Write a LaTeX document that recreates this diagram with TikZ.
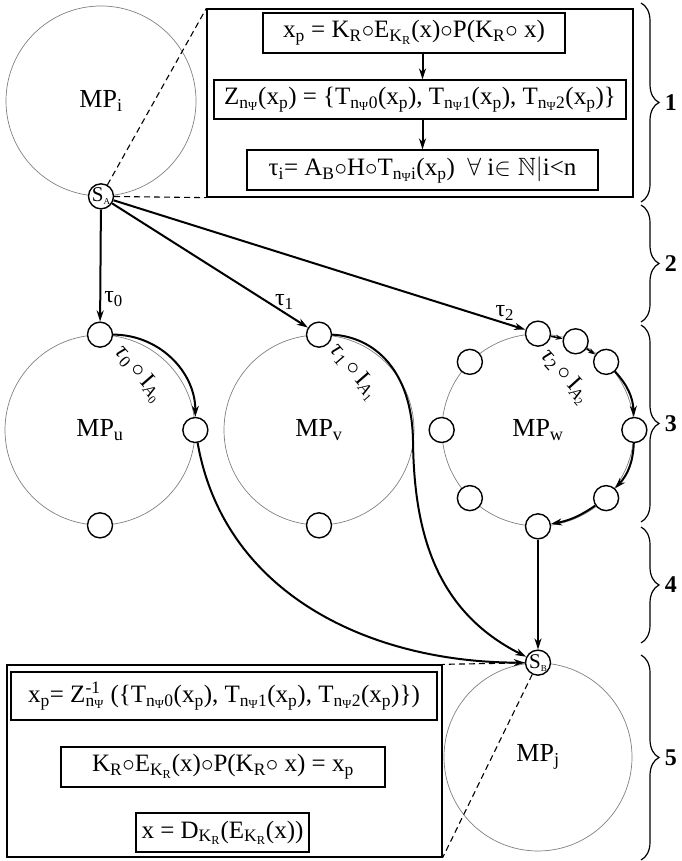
\documentclass[tikz,border=0pt]{standalone}
\usepackage{fontspec}
\setmainfont{Liberation Serif}
\usepackage{amssymb}
\usepackage{tikz}
\usetikzlibrary{arrows.meta,positioning,decorations.pathreplacing}

\newcommand{\sbs}[1]{\textsubscript{#1}}
\newcommand{\cmp}{$\circ$}

\tikzset{
  mp/.style={circle, draw=gray, line width=0.7pt, minimum size=190pt, inner sep=0pt, font=\fontsize{26}{30}\selectfont},
  port/.style={circle, draw, line width=1.4pt, fill=white, minimum size=25pt, inner sep=0pt, font=\fontsize{21}{21}\selectfont},
  formula/.style={draw, line width=1.2pt, inner xsep=3pt, inner ysep=0pt, minimum height=40pt, font=\fontsize{25}{29}\selectfont},
  outerbox/.style={draw, line width=1.3pt, inner sep=0pt},
  flow/.style={-{Stealth[length=11pt,width=7pt]}, line width=2pt},
  hop/.style={-{Stealth[length=7pt,width=5pt]}, line width=1.6pt},
  guide/.style={line width=1.1pt, dash pattern=on 6pt off 4pt},
  tag/.style={font=\fontsize{24}{28}\selectfont, inner sep=1pt},
  phase/.style={decorate, decoration={brace, amplitude=18pt}, line width=1.2pt},
  num/.style={font=\fontsize{24}{28}\selectfont\bfseries}
}

\begin{document}
\begin{tikzpicture}[x=1pt,y=1pt]
  \useasboundingbox (0,0) rectangle (681,861);

  \node[mp] (MPi) at (101,760) {MP\sbs{i}};
  \node[port] (SA) at (MPi.south) {S\raisebox{-3pt}{\fontsize{9}{9}\selectfont A}};

  \node[outerbox, minimum width=426pt, minimum height=188pt] (keybox) at (420,758) {};
  \node[formula, minimum width=302pt] (xp) at (414,828) {x\sbs{p} = K\sbs{R}\cmp E\sbs{K\sbs{R}}(x)\cmp P(K\sbs{R}\cmp\ x)};
  \node[formula, minimum width=412pt, minimum height=39pt] (split) at (420,761.5) {Z\sbs{n\sbs{Ψ}}(x\sbs{p}) = \{T\sbs{n\sbs{Ψ}0}(x\sbs{p}), T\sbs{n\sbs{Ψ}1}(x\sbs{p}), T\sbs{n\sbs{Ψ}2}(x\sbs{p})\}};
  \node[formula, minimum width=351pt] (tau) at (422.5,691) {τ\sbs{i}= A\sbs{B}\cmp H\cmp T\sbs{n\sbs{Ψ}i}(x\sbs{p})\ \ $\forall$ i$\in\mathbb{N}|$i<n};
  \draw[flow] (xp.south -| tau.north) -- (split.north -| tau.north);
  \draw[flow] (split.south -| tau.north) -- (tau.north);
  \draw[guide] (SA) -- (keybox.north west);
  \draw[guide] (SA) -- (keybox.south west);

  \node[mp] (MPu) at (100,431) {MP\sbs{u}};
  \node[mp] (MPv) at (319,431) {MP\sbs{v}};
  \node[mp, minimum size=192pt] (MPw) at (538,431) {MP\sbs{w}};
  \node[mp, minimum size=188pt] (MPj) at (538,104) {MP\sbs{j}};

  \node[port] (u0) at (MPu.90) {};
  \node[port] (u1) at (MPu.0) {};
  \node[port] (u2) at (MPu.-90) {};
  \node[port] (v0) at (MPv.90) {};
  \node[port] (v1) at (MPv.-90) {};
  \foreach \a/\n in {90/0, 67.5/1, 45/2, 0/3, -45/4, -90/5, -135/6, 180/7, 135/8}
    \node[port] (w\n) at (MPw.\a) {};
  \node[port] (SB) at (MPj.north) {S\raisebox{-3pt}{\fontsize{9}{9}\selectfont B}};

  \draw[flow] (SA) -- node[tag, pos=0.8, right=2pt] {τ\sbs{0}} (u0);
  \draw[flow] (SA) -- node[tag, pos=0.88, above=1pt] {τ\sbs{1}} (v0);
  \draw[flow] (SA) -- node[tag, pos=0.95, above=1pt] {τ\sbs{2}} (w0);

  \draw[flow] (u0) to[out=0, in=90] (u1);
  \node[tag, rotate=-49] (lu) at (139,487) {\textit{τ}\sbs{0}\,\cmp\,I\sbs{\textit{A}\sbs{0}}};
  \draw[flow] (u1) to[out=-80, in=180] (SB);

  \draw[flow] (v0.east) .. controls (375,524) and (412,490) .. (413,420)
    .. controls (414,330) and (435,250) .. (SB);
  \node[tag, rotate=-49] (lv) at (354,489) {\textit{τ}\sbs{1}\,\cmp\,I\sbs{\textit{A}\sbs{1}}};

  \draw[hop] (w0) -- (w1);
  \draw[hop] (w1) -- (w2);
  \draw[flow] (w2) to[bend left=20] (w3);
  \draw[flow] (w3) to[bend left=20] (w4);
  \draw[flow] (w4) to[bend left=12] (w5);
  \draw[flow] (w5) -- (SB);
  \node[tag, rotate=-48] (lw) at (565,484) {\textit{τ}\sbs{2}\,\cmp\,I\sbs{\textit{A}\sbs{2}}};

  \node[outerbox, minimum width=435pt, minimum height=192pt] (decbox) at (224.5,100) {};
  \node[formula, minimum width=426pt, minimum height=48pt] (join) at (224,165) {x\sbs{p}= Z\rlap{\textsuperscript{-1}}\sbs{n\sbs{Ψ}} (\{T\sbs{n\sbs{Ψ}0}(x\sbs{p}), T\sbs{n\sbs{Ψ}1}(x\sbs{p}), T\sbs{n\sbs{Ψ}2}(x\sbs{p})\})};
  \node[formula, minimum width=324pt] (recover) at (223,94) {K\sbs{R}\cmp E\sbs{K\sbs{R}}(x)\cmp P(K\sbs{R}\cmp\ x) = x\sbs{p}};
  \node[formula, minimum width=173pt, minimum height=39pt] (plain) at (222.5,28.5) {x = D\sbs{K\sbs{R}}(E\sbs{K\sbs{R}}(x))};
  \draw[guide] (SB) -- (decbox.north east);
  \draw[guide] (SB) -- (decbox.south east);

  \foreach \top/\bot/\lbl in {858/659/1, 656/539/2, 536/339/3, 334/218/4, 206/1/5}
    \draw[phase] (641,\top) -- node[num, right=20pt] (p\lbl) {\lbl} (641,\bot);
\end{tikzpicture}
\end{document}
